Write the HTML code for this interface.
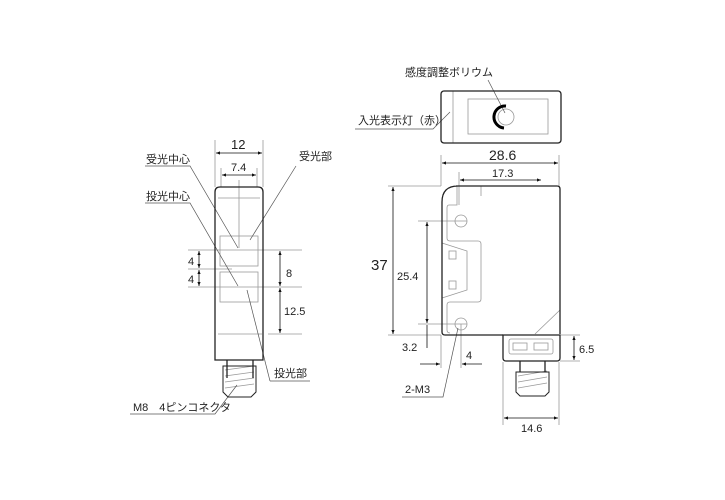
<!DOCTYPE html>
<html><head><meta charset="utf-8"><style>
html,body{margin:0;padding:0;background:#fff;}
svg{display:block;}
text{font-family:"Liberation Sans","Noto Sans CJK JP",sans-serif;fill:#222;}
</style></head><body>
<svg width="725" height="500" viewBox="0 0 725 500" xmlns="http://www.w3.org/2000/svg">
<defs>
<marker id="a" viewBox="0 0 10 10" refX="10" refY="5" markerWidth="7" markerHeight="5" orient="auto-start-reverse"><path d="M0,1 L10,5 L0,9z" fill="#111"/></marker>
</defs>
<g fill="none" stroke="#999" stroke-width="0.8">
<line x1="215" y1="140" x2="215" y2="187"/><line x1="263" y1="140" x2="263" y2="187"/>
<line x1="221" y1="168" x2="221" y2="187"/><line x1="257" y1="168" x2="257" y2="187"/>
<line x1="239" y1="180" x2="239" y2="248"/>
<line x1="188" y1="250" x2="302" y2="250"/>
<line x1="188" y1="269" x2="232" y2="269"/>
<line x1="188" y1="287" x2="302" y2="287"/>
<line x1="268" y1="334" x2="302" y2="334"/>
<rect x="220" y="236" width="38" height="30"/>
<rect x="220" y="272" width="38" height="30"/>
<line x1="218" y1="198" x2="260" y2="198"/>
<line x1="218" y1="334" x2="262" y2="334"/>
<line x1="441" y1="155" x2="441" y2="186"/><line x1="559" y1="155" x2="559" y2="186"/>
<line x1="459" y1="172" x2="459" y2="205"/>
<line x1="388" y1="186" x2="441" y2="186"/>
<line x1="388" y1="335" x2="441" y2="335"/>
<line x1="418" y1="221" x2="467" y2="221"/>
<line x1="418" y1="324" x2="467" y2="324"/>
<line x1="441" y1="335" x2="441" y2="368"/><line x1="461" y1="324" x2="461" y2="368"/>
<line x1="503" y1="362" x2="503" y2="425"/><line x1="559" y1="362" x2="559" y2="425"/>
<line x1="560" y1="335" x2="580" y2="335"/><line x1="560" y1="361" x2="580" y2="361"/>
<path d="M457,186 V205 H449 Q447,205 447,208 V238 Q447,241 450,241 H478 Q481,241 481,244 V299 Q481,302 478,302 H450 Q447,302 447,305 V330 Q447,333 450,333"/>
<path d="M442,243 L467,251 V290 L442,298"/>
<rect x="449" y="251" width="7" height="8"/><rect x="449" y="281" width="7" height="8"/>
<line x1="481" y1="186" x2="481" y2="196"/>
<line x1="535" y1="334" x2="560" y2="310"/>
<circle cx="461" cy="221" r="6"/><circle cx="461" cy="324" r="6"/>
<line x1="453" y1="91" x2="453" y2="143"/>
<rect x="468" y="99" width="80" height="35"/>
<circle cx="506" cy="117" r="8"/>
<rect x="509" y="339" width="44" height="15" rx="2"/>
<rect x="513" y="343" width="14" height="7"/><rect x="534" y="343" width="14" height="7"/>
<path d="M518,376 L547,371 M518,382 L547,377 M518,388 L547,383"/>
<path d="M225,370 L254,366 M225,376 L254,372 M225,382 L254,378 M225,388 L254,384"/>
</g>
<g fill="none" stroke="#555" stroke-width="0.7">
<path d="M145,166 H190 L238,248"/>
<path d="M145,203 H190 L238,286"/>
<path d="M296,166 L250,240"/>
<path d="M270,381 H310"/><path d="M270,381 L247,290"/>
<path d="M130,414 H215 L237,385"/>
<path d="M488,80 L505,113"/>
<path d="M355,129 H433 L450,112"/>
<path d="M402,397 H443 L458,328"/>
</g>
<g fill="none" stroke="#222" stroke-width="1.3">
<path d="M215,360 V192 Q215,187 220,187 H258 Q263,187 263,192 V360 Z"/>
<path d="M227,360 V378 M253,360 V378"/>
<path d="M223,366 H256 V392 L251,397 H228 L223,392 Z" stroke-width="1"/>
<rect x="441" y="91" width="120" height="52" rx="3"/>
<path d="M456,186 H557 Q560,186 560,189 V334 M503,335 H445 Q442,335 442,332 V202 Q442,186 458,186"/>
<path d="M503,335 H560 V358 Q560,361 557,361 H506 Q503,361 503,358 Z"/>
<path d="M520,361 V372 M545,361 V372"/>
<path d="M516,372 H549 V392 L545,396 H520 L516,392 Z" stroke-width="1"/>
</g>
<path d="M506,106 A11,11 0 0 0 504,128" fill="none" stroke="#000" stroke-width="3"/>
<g stroke="#111" stroke-width="0.8" fill="none" marker-start="url(#a)" marker-end="url(#a)">
<line x1="216" y1="153" x2="262" y2="153"/>
<line x1="222" y1="175" x2="256" y2="175"/>
<line x1="199" y1="251" x2="199" y2="268"/>
<line x1="199" y1="270" x2="199" y2="286"/>
<line x1="280" y1="251" x2="280" y2="286"/>
<line x1="280" y1="288" x2="280" y2="333"/>
<line x1="442" y1="163" x2="558" y2="163"/>
<line x1="460" y1="180" x2="541" y2="180"/>
<line x1="393" y1="187" x2="393" y2="334"/>
<line x1="427" y1="222" x2="427" y2="323"/>
<line x1="574" y1="336" x2="574" y2="360"/>
<line x1="504" y1="418" x2="558" y2="418"/>
</g>
<g stroke="#111" stroke-width="0.8" fill="none">
<line x1="427" y1="325" x2="427" y2="348"/>
<line x1="420" y1="364" x2="440" y2="364" marker-end="url(#a)"/>
<line x1="482" y1="364" x2="462" y2="364" marker-end="url(#a)"/>
</g>
<g font-size="11">
<text x="231" y="149" font-size="13">12</text>
<text x="231" y="171">7.4</text>
<text x="188" y="265">4</text><text x="188" y="283">4</text>
<text x="286" y="277">8</text><text x="284" y="315">12.5</text>
<text x="146" y="163">受光中心</text>
<text x="146" y="200">投光中心</text>
<text x="299" y="160">受光部</text>
<text x="274" y="377">投光部</text>
<text x="133" y="411">M8　4ピンコネクタ</text>
<text x="405" y="76">感度調整ボリウム</text>
<text x="358" y="124">入光表示灯（赤）</text>
<text x="489" y="160" font-size="14">28.6</text>
<text x="492" y="177">17.3</text>
<text x="371" y="270" font-size="15">37</text>
<text x="397" y="280">25.4</text>
<text x="402" y="351">3.2</text>
<text x="466" y="359">4</text>
<text x="405" y="393">2-M3</text>
<text x="579" y="353">6.5</text>
<text x="521" y="432">14.6</text>
</g>
</svg>
</body></html>
